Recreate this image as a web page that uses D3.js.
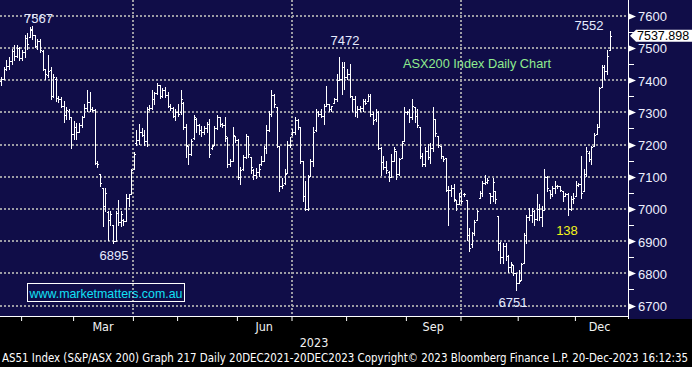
<!DOCTYPE html>
<html>
<head>
<meta charset="utf-8">
<script src="https://cdn.jsdelivr.net/npm/d3@7"></script>
<style>
  html, body { margin: 0; padding: 0; background: #000; }
  svg { display: block; }
</style>
</head>
<body>
<svg id="chart" width="692" height="367"></svg>
<script>
// ASX200 daily bars (one entry per trading session)
const opens = [
  7385, 7398, 7405, 7435, 7445, 7460, 7490, 7475, 7500, 7470,
  7488, 7530, 7535, 7555, 7539, 7506, 7520, 7490, 7434, 7415,
  7430, 7352, 7405, 7346, 7340, 7320, 7292, 7305, 7284, 7232,
  7255, 7240, 7262, 7285, 7315, 7332, 7310, 7308, 7144, 7108,
  7065, 7009, 6990, 6966, 6950, 6900, 6988, 6960, 6965, 6962,
  7035, 7046, 7124, 7205, 7215, 7240, 7230, 7210, 7310, 7315,
  7340, 7360, 7385, 7350, 7370, 7355, 7320, 7315, 7290, 7300,
  7300, 7330, 7255, 7195, 7170, 7220, 7280, 7260, 7245, 7240,
  7250, 7265, 7188, 7200, 7250, 7285, 7265, 7260, 7220, 7140,
  7150, 7225, 7215, 7100, 7125, 7160, 7225, 7160, 7120, 7105,
  7115, 7140, 7150, 7190, 7245, 7295, 7355, 7316, 7196, 7070,
  7080, 7112, 7200, 7232, 7240, 7275, 7253, 7149, 7040, 7000,
  7102, 7150, 7245, 7300, 7295, 7290, 7321, 7325, 7310, 7330,
  7340, 7400, 7405, 7440, 7410, 7420, 7352, 7340, 7300, 7310,
  7315, 7335, 7336, 7350, 7295, 7280, 7300, 7190, 7145, 7130,
  7115, 7100, 7150, 7180, 7110, 7159, 7211, 7300, 7302, 7285,
  7316, 7290, 7253, 7165, 7140, 7180, 7160, 7190, 7279, 7227,
  7196, 7165, 7159, 7060, 7060, 7065, 7029, 7015, 7040, 7045,
  7029, 6920, 6890, 6925, 6967, 7034, 7050, 7080, 7085, 7050,
  7040, 7055, 6977, 6895, 6850, 6885, 6855, 6820, 6826, 6800,
  6770, 6779, 6831, 6920, 6975, 6980, 6995, 6970, 7000, 6975,
  6998, 7100, 7060, 7045, 7065, 7070, 7071, 7055, 7040, 7045,
  7000, 7030, 7040, 7075, 7078, 7055, 7110, 7175, 7155, 7196,
  7232, 7255, 7378, 7442, 7429, 7493
];
const highs = [
  7404, 7410, 7440, 7462, 7472, 7498, 7508, 7508, 7503, 7493,
  7540, 7545, 7566, 7567, 7540, 7529, 7529, 7493, 7436, 7477,
  7440, 7420, 7409, 7352, 7347, 7336, 7316, 7310, 7284, 7274,
  7268, 7268, 7290, 7326, 7368, 7362, 7316, 7310, 7149, 7108,
  7066, 7066, 6993, 6993, 6951, 6993, 7029, 6993, 6970, 7046,
  7048, 7124, 7176, 7244, 7265, 7250, 7245, 7317, 7322, 7369,
  7364, 7390, 7386, 7374, 7379, 7364, 7327, 7317, 7311, 7327,
  7369, 7332, 7265, 7197, 7218, 7291, 7282, 7265, 7259, 7259,
  7270, 7280, 7200, 7259, 7291, 7287, 7267, 7285, 7222, 7155,
  7254, 7228, 7216, 7131, 7166, 7233, 7226, 7160, 7123, 7128,
  7139, 7165, 7196, 7260, 7305, 7368, 7357, 7316, 7196, 7097,
  7123, 7211, 7222, 7248, 7284, 7279, 7253, 7149, 7086, 7107,
  7154, 7253, 7310, 7305, 7310, 7326, 7383, 7326, 7321, 7345,
  7420, 7472, 7456, 7456, 7435, 7451, 7352, 7352, 7321, 7321,
  7342, 7342, 7357, 7357, 7300, 7310, 7305, 7191, 7165, 7149,
  7118, 7170, 7191, 7180, 7159, 7211, 7316, 7305, 7310, 7342,
  7316, 7310, 7253, 7175, 7191, 7201, 7206, 7316, 7279, 7227,
  7196, 7165, 7159, 7071, 7073, 7076, 7029, 7050, 7060, 7050,
  7029, 6941, 6930, 6967, 6998, 7055, 7086, 7107, 7097, 7050,
  7097, 7055, 6977, 6896, 6894, 6894, 6857, 6836, 6826, 6800,
  6810, 6831, 6925, 6982, 7003, 7003, 6998, 7045, 7014, 7008,
  7123, 7102, 7060, 7071, 7086, 7075, 7071, 7055, 7050, 7050,
  7040, 7050, 7086, 7081, 7165, 7123, 7191, 7180, 7196, 7237,
  7264, 7378, 7446, 7446, 7493, 7552
];
const lows = [
  7376, 7385, 7404, 7430, 7436, 7451, 7461, 7472, 7461, 7461,
  7472, 7498, 7534, 7529, 7503, 7498, 7488, 7430, 7404, 7409,
  7342, 7347, 7336, 7331, 7316, 7269, 7279, 7279, 7190, 7217,
  7217, 7238, 7253, 7284, 7305, 7305, 7305, 7139, 7130, 7071,
  6946, 6993, 6904, 6951, 6894, 6899, 6951, 6946, 6950, 6962,
  7009, 7046, 7124, 7200, 7202, 7225, 7200, 7197, 7306, 7311,
  7327, 7358, 7343, 7348, 7348, 7317, 7306, 7285, 7275, 7290,
  7295, 7249, 7160, 7140, 7168, 7218, 7239, 7233, 7228, 7233,
  7239, 7160, 7185, 7198, 7248, 7259, 7254, 7212, 7129, 7134,
  7148, 7207, 7093, 7077, 7122, 7158, 7160, 7112, 7092, 7097,
  7102, 7135, 7149, 7175, 7243, 7290, 7316, 7191, 7055, 7066,
  7076, 7112, 7191, 7230, 7232, 7248, 7144, 7024, 6998, 6998,
  7102, 7133, 7243, 7290, 7284, 7264, 7321, 7305, 7305, 7330,
  7336, 7399, 7357, 7373, 7404, 7347, 7305, 7290, 7284, 7305,
  7305, 7326, 7336, 7290, 7264, 7274, 7185, 7107, 7123, 7112,
  7086, 7100, 7149, 7092, 7107, 7159, 7211, 7295, 7269, 7279,
  7269, 7253, 7159, 7133, 7133, 7154, 7144, 7180, 7227, 7191,
  7159, 7149, 7055, 6951, 7040, 7024, 6998, 7014, 7019, 7040,
  6904, 6868, 6883, 6920, 6967, 7034, 7040, 7076, 7081, 7019,
  7024, 7019, 6873, 6831, 6831, 6842, 6805, 6805, 6795, 6748,
  6769, 6779, 6831, 6894, 6967, 6961, 6951, 6967, 6967, 6946,
  6998, 7055, 7034, 7040, 7050, 7066, 7055, 7024, 7040, 6982,
  6998, 7019, 7040, 7071, 7034, 7055, 7102, 7149, 7139, 7196,
  7232, 7253, 7378, 7404, 7420, 7493
];
const closes = [
  7398, 7405, 7435, 7445, 7460, 7490, 7475, 7500, 7470, 7488,
  7530, 7512, 7558, 7539, 7506, 7520, 7492, 7434, 7420, 7428,
  7352, 7410, 7346, 7340, 7320, 7292, 7307, 7284, 7232, 7255,
  7240, 7262, 7285, 7315, 7332, 7310, 7308, 7144, 7140, 7080,
  7009, 7050, 6966, 6985, 6900, 6988, 6960, 6985, 6962, 7035,
  7045, 7120, 7172, 7215, 7240, 7230, 7210, 7310, 7315, 7340,
  7360, 7385, 7350, 7370, 7355, 7320, 7315, 7290, 7300, 7295,
  7340, 7255, 7200, 7170, 7210, 7285, 7260, 7245, 7240, 7250,
  7265, 7170, 7195, 7250, 7285, 7265, 7260, 7225, 7140, 7150,
  7230, 7215, 7100, 7120, 7160, 7225, 7170, 7130, 7105, 7115,
  7125, 7150, 7190, 7245, 7295, 7355, 7325, 7196, 7070, 7075,
  7110, 7200, 7200, 7240, 7275, 7255, 7150, 7040, 7000, 7100,
  7150, 7240, 7300, 7295, 7290, 7320, 7325, 7310, 7320, 7340,
  7400, 7405, 7440, 7410, 7420, 7352, 7340, 7300, 7310, 7315,
  7335, 7330, 7350, 7295, 7275, 7300, 7190, 7145, 7130, 7120,
  7100, 7150, 7185, 7110, 7155, 7205, 7300, 7302, 7285, 7320,
  7290, 7262, 7165, 7140, 7180, 7160, 7190, 7280, 7235, 7200,
  7165, 7155, 7060, 7060, 7065, 7030, 7015, 7040, 7025, 7045,
  6920, 6880, 6925, 6960, 6995, 7050, 7080, 7085, 7090, 7040,
  7085, 7030, 6895, 6850, 6885, 6855, 6820, 6830, 6800, 6770,
  6775, 6830, 6920, 6975, 6980, 6995, 6970, 7000, 6975, 6998,
  7100, 7065, 7045, 7065, 7070, 7072, 7060, 7040, 7045, 7000,
  7030, 7035, 7075, 7078, 7050, 7110, 7180, 7155, 7192, 7230,
  7255, 7377, 7442, 7429, 7476, 7537.898
];

// session calendar: first bar, last calendar day shown on the axis, ASX holidays
const firstSession = "2023-01-18";
const axisEnd = "2023-12-29";
const asxHolidays = ["2023-01-26", "2023-04-07", "2023-04-10", "2023-04-25", "2023-06-12", "2023-12-25", "2023-12-26"];

const yTicks = [6700, 6800, 6900, 7000, 7100, 7200, 7300, 7400, 7500, 7600];
const labelledMonths = ["Mar", "Jun", "Sep", "Dec"];
const yearLabel = "2023";
const extremeLabels = ["7567", "7472", "7552", "6895", "6751"];
const titleText = "ASX200 Index Daily Chart";
const noteText = "138";
const siteText = "www.marketmatters.com.au";
const footerText = "AS51 Index (S&P/ASX 200) Graph 217  Daily 20DEC2021-20DEC2023 Copyright\u00A9 2023 Bloomberg Finance L.P.  20-Dec-2023 16:12:35";

const W = 692, H = 367;
const plot = {left: 0, right: 628, top: 0, bottom: 316};
const navy = "#100d48";
const numFont = "'Liberation Sans', Arial, sans-serif";
const narrowFont = "'DejaVu Sans Condensed', 'Liberation Sans Narrow', 'Liberation Sans', sans-serif";

const svg = d3.select("#chart");

//backgrounds: black page, navy plot and right axis panel
svg.append("rect").attr("width", W).attr("height", H).attr("fill", "#000");
svg.append("rect").attr("width", W).attr("height", plot.bottom).attr("fill", navy);
svg.append("rect").attr("x", plot.right).attr("width", W - plot.right).attr("height", plot.bottom + 3).attr("fill", navy);

//trading sessions (weekdays minus holidays)
let fmtDay = d3.utcFormat("%Y-%m-%d");
let parseDay = d3.utcParse("%Y-%m-%d");
let sessions = d3.utcDay.range(parseDay(firstSession), d3.utcDay.offset(parseDay(axisEnd), 1))
    .filter(d => d.getUTCDay() % 6 !== 0 && !asxHolidays.includes(fmtDay(d)));

let n = closes.length;
let x = d3.scaleLinear().domain([0, n - 1]).range([-1, 610]);
let y = d3.scaleLinear().domain([6700, 7600]).range([305.6, 15.7]);

//first session of each month, plus the end of the axis
let monthStarts = [];
sessions.forEach((d, i) => {
    if (i > 0 && d.getUTCMonth() !== sessions[i - 1].getUTCMonth()) monthStarts.push(i);
});
let edges = monthStarts.concat([sessions.length]);

//dotted grid
let grid = svg.append("g").attr("stroke", "#9c9ca4").attr("stroke-width", 2).attr("stroke-dasharray", "2,2");
grid.selectAll("line.h").data(yTicks).join("line")
    .attr("class", "h")
    .attr("x1", plot.left).attr("x2", plot.right)
    .attr("y1", d => Math.round(y(d))).attr("y2", d => Math.round(y(d)));
grid.selectAll("line.v").data(monthStarts.filter(i => sessions[i].getUTCMonth() % 3 === 0)).join("line")
    .attr("class", "v")
    .attr("x1", i => Math.round(x(i - 0.5))).attr("x2", i => Math.round(x(i - 0.5)))
    .attr("y1", plot.top).attr("y2", plot.bottom);

//OHLC bars: high-low stem, open tick left, close tick right
let bars = svg.append("g").attr("fill", "#fff").attr("shape-rendering", "crispEdges");
let idx = d3.range(n);
bars.selectAll("rect.stem").data(idx).join("rect")
    .attr("class", "stem")
    .attr("x", i => Math.floor(x(i)))
    .attr("y", i => Math.round(y(highs[i])))
    .attr("width", 1)
    .attr("height", i => Math.max(1, Math.round(y(lows[i])) - Math.round(y(highs[i])) + 1));
bars.selectAll("rect.open").data(idx).join("rect")
    .attr("class", "open")
    .attr("x", i => Math.floor(x(i)) - 1)
    .attr("y", i => Math.round(y(opens[i])))
    .attr("width", 1).attr("height", 1);
bars.selectAll("rect.close").data(idx).join("rect")
    .attr("class", "close")
    .attr("x", i => Math.floor(x(i)) + 1)
    .attr("y", i => Math.round(y(closes[i])))
    .attr("width", 1).attr("height", 1);

//axis frame lines
svg.append("rect").attr("x", plot.right).attr("y", 0).attr("width", 1).attr("height", plot.bottom + 3).attr("fill", "#fff");
svg.append("rect").attr("x", 0).attr("y", plot.bottom).attr("width", plot.right + 1).attr("height", 1).attr("fill", "#fff");

//month ticks on x axis
svg.append("g")
    .attr("transform", `translate(0,${plot.bottom})`)
    .call(d3.axisBottom(x).tickValues(monthStarts.map(i => i - 0.5)).tickSize(5).tickFormat(""))
    .call(g => g.select(".domain").remove())
    .call(g => g.selectAll(".tick line").attr("stroke", "#fff"));

//month labels centred in their month
let fmtMonth = d3.utcFormat("%b");
let monthMid = [];
edges.forEach((e, k) => {
    if (k === edges.length - 1) return;
    let name = fmtMonth(sessions[e]);
    if (labelledMonths.includes(name)) monthMid.push({name: name, pos: (x(e - 0.5) + x(edges[k + 1] - 0.5)) / 2});
});
svg.append("g").selectAll("text").data(monthMid).join("text")
    .attr("x", d => d.pos).attr("y", 331)
    .attr("text-anchor", "middle")
    .attr("fill", "#f2f2f2")
    .style("font", `12.5px ${narrowFont}`)
    .text(d => d.name);
svg.append("text")
    .attr("x", (plot.left + plot.right) / 2).attr("y", 347)
    .attr("text-anchor", "middle")
    .attr("fill", "#f2f2f2")
    .style("font", `12.5px ${narrowFont}`)
    .text(yearLabel);

//right price axis
let yAxis = svg.append("g")
    .attr("transform", `translate(${plot.right},0)`)
    .call(d3.axisRight(y).tickValues(yTicks).tickSize(0).tickPadding(10).tickFormat(d3.format("d")));
yAxis.select(".domain").remove();
yAxis.selectAll(".tick text")
    .attr("fill", "#eef0ff")
    .attr("dy", "0.38em")
    .style("font", `13px ${numFont}`);

svg.append("g").attr("fill", "#fff").selectAll("path").data(yTicks).join("path")
    .attr("d", d => {
        let ty = Math.round(y(d)) + 0.5;
        return `M${plot.right + 1},${ty - 3}L${plot.right + 8},${ty}L${plot.right + 1},${ty + 3}Z`;
    });
svg.append("g").attr("stroke", "#fff").attr("shape-rendering", "crispEdges")
    .selectAll("line").data(y.ticks(18).filter(v => v % 100 !== 0)).join("line")
    .attr("x1", plot.right + 1).attr("x2", plot.right + 6)
    .attr("y1", d => Math.round(y(d)) + 0.5).attr("y2", d => Math.round(y(d)) + 0.5);

//last price flag
let last = closes[n - 1];
let ly = y(last);
svg.append("path")
    .attr("d", `M${plot.right + 2},${ly}L${plot.right + 8},${ly - 6}L${W},${ly - 6}L${W},${ly + 6}L${plot.right + 8},${ly + 6}Z`)
    .attr("fill", "#fff");
svg.append("text")
    .attr("x", plot.right + 9).attr("y", ly + 4.5)
    .attr("fill", "#000")
    .style("font", `12.5px ${numFont}`)
    .text(d3.format(".3f")(last));

//high / low annotations
let extremePos = [[38.5, 23], [345, 45], [589, 30], [114, 260], [513, 307]];
svg.append("g").selectAll("text").data(extremeLabels).join("text")
    .attr("x", (d, i) => extremePos[i][0]).attr("y", (d, i) => extremePos[i][1])
    .attr("text-anchor", "middle")
    .attr("fill", "#e6ebff")
    .style("font", `13px ${numFont}`)
    .text(d => d);

svg.append("text")
    .attr("x", 403).attr("y", 68)
    .attr("fill", "#8fec8f")
    .attr("textLength", 148).attr("lengthAdjust", "spacingAndGlyphs")
    .style("font", `13px ${numFont}`)
    .text(titleText);

svg.append("text")
    .attr("x", 567).attr("y", 235)
    .attr("text-anchor", "middle")
    .attr("fill", "#f4f41a")
    .style("font", `13px ${numFont}`)
    .text(noteText);

//website box
svg.append("rect")
    .attr("x", 27.5).attr("y", 283.5).attr("width", 157).attr("height", 18)
    .attr("fill", "none").attr("stroke", "#fff");
svg.append("text")
    .attr("x", 29.5).attr("y", 297.5)
    .attr("fill", "#12e0f6")
    .attr("textLength", 153).attr("lengthAdjust", "spacingAndGlyphs")
    .style("font", `13.5px ${numFont}`)
    .text(siteText);

//footer
svg.append("text")
    .attr("x", 2).attr("y", 361.5)
    .attr("fill", "#fff")
    .attr("textLength", 686).attr("lengthAdjust", "spacingAndGlyphs")
    .style("font", `11.5px ${narrowFont}`)
    .text(footerText);
</script>
</body>
</html>
